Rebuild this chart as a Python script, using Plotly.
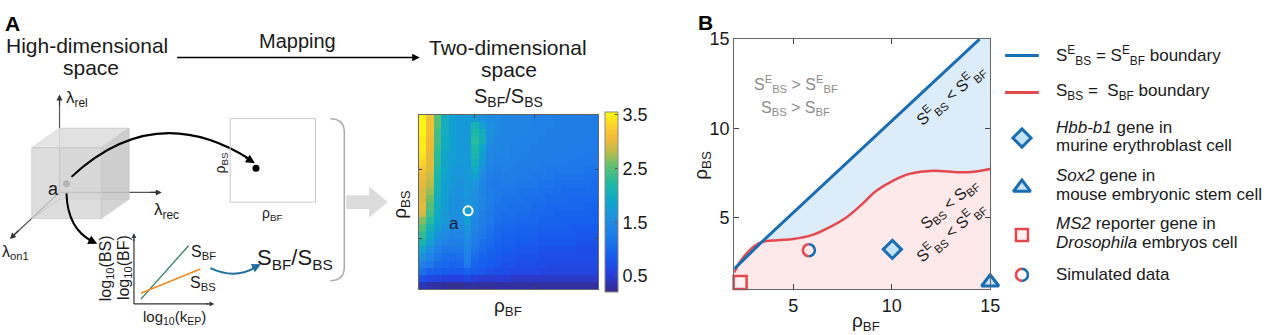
import plotly.graph_objects as go

FONT = "Liberation Sans, Arial, sans-serif"
INK = "#1a1a1a"

# ---------------- Panel A: S_BF / S_BS heatmap (rows from top = high rho_BS) -------------
ratio_rows_top_down = [
    [3.5,3.1,2.5,2.0,1.8,1.7,1.7,1.7,1.6,1.5,1.5,1.45,1.4,1.4,1.4,1.35,1.35,1.35,1.3,1.3,1.3,1.3,1.3,1.3],
    [3.5,3.1,2.5,2.0,1.8,1.7,1.7,2.1,1.8,1.6,1.5,1.45,1.4,1.4,1.4,1.35,1.35,1.35,1.3,1.3,1.3,1.3,1.3,1.3],
    [3.5,3.1,2.4,2.0,1.8,1.7,1.7,2.2,2.0,1.6,1.5,1.45,1.4,1.4,1.35,1.35,1.35,1.3,1.3,1.3,1.3,1.3,1.3,1.3],
    [3.45,3.05,2.4,1.95,1.8,1.7,1.7,2.25,2.05,1.55,1.45,1.4,1.4,1.35,1.35,1.35,1.3,1.3,1.3,1.3,1.3,1.3,1.25,1.25],
    [3.45,3.05,2.35,1.95,1.8,1.7,1.7,2.2,1.9,1.5,1.45,1.4,1.35,1.35,1.35,1.3,1.3,1.3,1.3,1.3,1.25,1.25,1.25,1.25],
    [3.4,3.0,2.3,1.9,1.75,1.7,1.7,2.15,1.8,1.45,1.4,1.4,1.35,1.35,1.3,1.3,1.3,1.3,1.25,1.25,1.25,1.25,1.25,1.2],
    [3.3,3.0,2.3,1.9,1.75,1.7,1.7,2.05,1.7,1.4,1.35,1.35,1.35,1.3,1.3,1.3,1.25,1.25,1.25,1.25,1.2,1.2,1.2,1.2],
    [3.15,2.95,2.2,1.9,1.7,1.65,1.7,1.95,1.6,1.35,1.3,1.35,1.3,1.3,1.25,1.25,1.25,1.2,1.2,1.2,1.2,1.2,1.15,1.15],
    [3.05,2.85,2.15,1.85,1.7,1.65,1.7,1.8,1.5,1.3,1.25,1.3,1.3,1.25,1.25,1.2,1.2,1.2,1.15,1.15,1.15,1.15,1.1,1.1],
    [3.0,2.8,2.1,1.8,1.7,1.6,1.7,1.65,1.45,1.25,1.2,1.25,1.25,1.2,1.2,1.2,1.15,1.15,1.1,1.1,1.1,1.1,1.1,1.05],
    [2.95,2.7,2.05,1.8,1.65,1.6,1.7,1.6,1.4,1.3,1.2,1.2,1.2,1.15,1.15,1.15,1.1,1.1,1.1,1.05,1.05,1.05,1.05,1.05],
    [2.95,2.6,2.0,1.8,1.6,1.6,1.65,1.55,1.45,1.3,1.2,1.15,1.15,1.15,1.1,1.1,1.1,1.05,1.05,1.05,1.0,1.0,1.0,1.0],
    [3.0,2.5,2.0,1.75,1.6,1.6,1.7,1.6,1.4,1.25,1.15,1.15,1.1,1.1,1.1,1.05,1.05,1.0,1.0,1.0,1.0,1.0,0.95,0.95],
    [2.9,2.4,1.95,1.7,1.6,1.6,1.8,1.5,1.35,1.2,1.15,1.1,1.1,1.05,1.05,1.0,1.0,1.0,0.95,0.95,0.95,0.95,0.95,0.9],
    [2.65,2.25,1.9,1.7,1.55,1.55,1.8,1.45,1.3,1.2,1.1,1.05,1.05,1.0,1.0,1.0,0.95,0.95,0.95,0.9,0.9,0.9,0.9,0.9],
    [2.5,2.1,1.8,1.6,1.5,1.5,1.7,1.4,1.25,1.15,1.05,1.0,1.0,0.95,0.95,0.95,0.9,0.9,0.9,0.9,0.85,0.85,0.85,0.85],
    [2.3,1.95,1.65,1.5,1.4,1.4,1.6,1.3,1.2,1.1,1.0,0.95,0.95,0.9,0.9,0.9,0.85,0.85,0.85,0.85,0.85,0.8,0.8,0.8],
    [2.1,1.8,1.5,1.35,1.3,1.3,1.5,1.25,1.1,1.05,0.95,0.9,0.9,0.85,0.85,0.85,0.8,0.8,0.8,0.8,0.8,0.75,0.75,0.75],
    [1.85,1.6,1.35,1.2,1.2,1.2,1.45,1.15,1.05,0.95,0.9,0.85,0.85,0.8,0.8,0.8,0.75,0.75,0.75,0.75,0.75,0.7,0.7,0.7],
    [1.6,1.4,1.2,1.1,1.05,1.1,1.35,1.05,0.95,0.9,0.85,0.8,0.8,0.75,0.75,0.75,0.7,0.7,0.7,0.7,0.7,0.7,0.7,0.7],
    [1.35,1.2,1.05,1.0,0.95,1.0,1.25,0.95,0.9,0.85,0.8,0.75,0.75,0.7,0.7,0.7,0.7,0.65,0.65,0.65,0.65,0.65,0.65,0.65],
    [1.1,0.95,0.9,0.85,0.85,0.85,0.95,0.85,0.8,0.75,0.7,0.7,0.65,0.65,0.65,0.65,0.6,0.6,0.6,0.6,0.6,0.6,0.6,0.6],
    [0.75,0.65,0.6,0.55,0.55,0.55,0.65,0.55,0.5,0.5,0.5,0.5,0.45,0.45,0.45,0.45,0.45,0.45,0.45,0.45,0.45,0.45,0.45,0.45],
    [0.4,0.35,0.3,0.28,0.25,0.25,0.3,0.3,0.28,0.28,0.3,0.3,0.3,0.3,0.3,0.3,0.3,0.3,0.3,0.3,0.3,0.3,0.3,0.3],
]
heat_z = ratio_rows_top_down[::-1]
cbar_ticks = [0.5, 1.5, 2.5, 3.5]
cbar_range = [0.2, 3.55]
point_a_x = [6.1]
point_a_y = [10.3]

# ---------------- Panel B data -------------
blue_x = [2.0, 3.4, 14.46]
blue_y = [2.15, 3.65, 15.0]
red_x = [2.0, 2.3, 2.7, 3.0, 3.4, 4.2, 5.0, 5.9, 6.7, 7.6, 8.4, 9.2, 10.1, 10.9, 12.1, 13.4, 14.3, 15.0]
red_y = [1.95, 2.55, 3.1, 3.4, 3.65, 3.75, 3.82, 4.02, 4.4, 4.95, 5.67, 6.5, 7.1, 7.46, 7.64, 7.55, 7.6, 7.73]
b_xrange = [2, 15]
b_yrange = [1, 15]
b_ticks = [5, 10, 15]
hbb_x, hbb_y = [10.03], [3.24]
sox2_x, sox2_y = [15.0], [1.4]
ms2_x, ms2_y = [2.3], [1.39]
sim_x, sim_y = [5.79], [3.19]

BLUE = "#1b6db3"
RED = "#e5474e"
LBLUE = "#dcedf9"
PINK = "#fde9e9"
MFILL = "#c6e2f6"

parula = [[0.0, "rgb(53,42,135)"], [0.1, "rgb(38,62,220)"], [0.2, "rgb(22,92,238)"],
          [0.3, "rgb(30,120,232)"], [0.4, "rgb(32,140,225)"], [0.5, "rgb(14,165,205)"],
          [0.6, "rgb(30,185,165)"], [0.7, "rgb(95,192,112)"], [0.78, "rgb(190,188,75)"],
          [0.85, "rgb(240,186,55)"], [0.92, "rgb(252,208,45)"], [1.0, "rgb(249,251,14)"]]

W, H = 1280, 335
def dx(a, b):
    return [a / W, b / W]
def dy(top, bot):
    return [1 - bot / H, 1 - top / H]

fig = go.Figure()

# heatmap
fig.add_trace(go.Heatmap(
    z=heat_z, colorscale=parula, zmin=cbar_range[0], zmax=cbar_range[1],
    xaxis="x", yaxis="y",
    colorbar=dict(x=610 / W, xanchor="left", y=1 - 198 / H, yanchor="middle",
                  lenmode="pixels", len=180, thickness=13, xpad=0, ypad=0,
                  tickvals=cbar_ticks, ticktext=[str(v) for v in cbar_ticks],
                  ticks="inside", ticklen=3, tickcolor="#555",
                  outlinewidth=1, outlinecolor="#888",
                  tickfont=dict(size=18, family=FONT, color=INK)),
))
fig.add_trace(go.Scatter(x=point_a_x, y=point_a_y, mode="markers", xaxis="x", yaxis="y",
                         marker=dict(symbol="circle-open", size=9, color="white", line=dict(width=2)),
                         showlegend=False, hoverinfo="skip"))

# panel B fills
pink_x = red_x + [red_x[-1], red_x[0]]
pink_y = red_y + [0, 0]
fig.add_trace(go.Scatter(x=pink_x, y=pink_y, fill="toself", fillcolor=PINK, mode="none",
                         xaxis="x2", yaxis="y2", showlegend=False, hoverinfo="skip"))
k0 = red_x.index(blue_x[1])
lb_x = blue_x[1:] + [b_xrange[1]] + red_x[k0:][::-1]
lb_y = blue_y[1:] + [b_yrange[1]] + red_y[k0:][::-1]
fig.add_trace(go.Scatter(x=lb_x, y=lb_y, fill="toself", fillcolor=LBLUE, mode="none",
                         xaxis="x2", yaxis="y2", showlegend=False, hoverinfo="skip"))
fig.add_trace(go.Scatter(x=red_x, y=red_y, mode="lines", line=dict(color=RED, width=2.5, shape="spline", smoothing=1.0),
                         xaxis="x2", yaxis="y2", showlegend=False, hoverinfo="skip"))
fig.add_trace(go.Scatter(x=blue_x, y=blue_y, mode="lines", line=dict(color=BLUE, width=3),
                         xaxis="x2", yaxis="y2", showlegend=False, hoverinfo="skip"))
fig.add_trace(go.Scatter(x=hbb_x, y=hbb_y, mode="markers", xaxis="x2", yaxis="y2", cliponaxis=False,
                         marker=dict(symbol="diamond", size=14, color=MFILL, line=dict(color=BLUE, width=3)),
                         showlegend=False, hoverinfo="skip"))
fig.add_trace(go.Scatter(x=sox2_x, y=sox2_y, mode="markers", xaxis="x2", yaxis="y2", cliponaxis=False,
                         marker=dict(symbol="triangle-up", size=15, color=MFILL, line=dict(color=BLUE, width=3)),
                         showlegend=False, hoverinfo="skip"))
fig.add_trace(go.Scatter(x=ms2_x, y=ms2_y, mode="markers", xaxis="x2", yaxis="y2", cliponaxis=False,
                         marker=dict(symbol="square", size=13, color="#fdf2f2", line=dict(color=RED, width=2.5)),
                         showlegend=False, hoverinfo="skip"))

# pixel overlay axis (x3/y3) for the schematic and legend
legend_marks = dict(
    diamond=(1030, 132), triangle=(1030, 183), square=(1030, 232), circle=(1030, 273))
fig.add_trace(go.Scatter(x=[legend_marks["diamond"][0]], y=[legend_marks["diamond"][1]], mode="markers",
                         xaxis="x3", yaxis="y3", cliponaxis=False,
                         marker=dict(symbol="diamond", size=14, color=MFILL, line=dict(color=BLUE, width=3)),
                         showlegend=False, hoverinfo="skip"))
fig.add_trace(go.Scatter(x=[legend_marks["triangle"][0]], y=[legend_marks["triangle"][1]], mode="markers",
                         xaxis="x3", yaxis="y3", cliponaxis=False,
                         marker=dict(symbol="triangle-up", size=15, color=MFILL, line=dict(color=BLUE, width=3)),
                         showlegend=False, hoverinfo="skip"))
fig.add_trace(go.Scatter(x=[legend_marks["square"][0]], y=[legend_marks["square"][1]], mode="markers",
                         xaxis="x3", yaxis="y3", cliponaxis=False,
                         marker=dict(symbol="square", size=12, color="#fdf2f2", line=dict(color=RED, width=2.5)),
                         showlegend=False, hoverinfo="skip"))
# dots in the schematic
fig.add_trace(go.Scatter(x=[67, 258], y=[179, 163], mode="markers", xaxis="x3", yaxis="y3", cliponaxis=False,
                         marker=dict(size=7, color="black"), showlegend=False, hoverinfo="skip"))

shapes = []
def P(path, color="black", width=1.5, fill=None, **kw):
    d = dict(type="path", path=path, xref="x3", yref="y3", line=dict(color=color, width=width))
    if fill:
        d["fillcolor"] = fill
    d.update(kw)
    shapes.append(d)
def L(x0, y0, x1, y1, color="black", width=1.2):
    shapes.append(dict(type="line", x0=x0, y0=y0, x1=x1, y1=y1, xref="x3", yref="y3",
                       line=dict(color=color, width=width)))

# cube axes (drawn first, under translucent cube)
L(60, 188, 60, 90, "#555", 1.2)
L(60, 188, 158, 188, "#555", 1.2)
L(60, 188, 13, 233, "#555", 1.2)
# cube faces
P("M 60,122 L 130,122 L 130,195 L 60,195 Z", "rgba(200,200,200,0.7)", 1, "rgba(205,205,205,0.45)")
P("M 32,142 L 60,122 L 130,122 L 102,142 Z", "rgba(205,205,205,0.7)", 1, "rgba(222,222,222,0.8)")
P("M 102,142 L 130,122 L 130,195 L 102,215 Z", "rgba(200,200,200,0.7)", 1, "rgba(198,198,198,0.75)")
P("M 32,142 L 102,142 L 102,215 L 32,215 Z", "rgba(200,200,200,0.7)", 1, "rgba(210,210,210,0.75)")
L(32, 215, 60, 195, "rgba(190,190,190,0.7)", 1)
# curved arrows
P("M 72,172 Q 156,92 252,154", "black", 2)
P("M 67,189 Q 68,226 94,239", "black", 2)
P("M 212,266 Q 237,278 258,265", "#1f6e9e", 2)
# small mapping box
shapes.append(dict(type="rect", x0=232, y0=112, x1=318, y1=198, xref="x3", yref="y3",
                   line=dict(color="#c8c8c8", width=1)))
# bracket
P("M 333,112 Q 347,112 347,126 L 347,265 Q 347,279 333,279", "#aaaaaa", 1.5)
# big gray arrow
P("M 349,191 L 372,191 L 372,182 L 391,198 L 372,214 L 372,205 L 349,205 Z", "#dcdcdc", 0, "#dcdcdc")
# inset plot
L(135, 303, 135, 236, "#333", 1.2)
L(135, 303, 210, 303, "#333", 1.2)
L(142, 298, 190, 243, "#2f7f62", 1.3)
L(142, 292, 202, 267, "#ee8a22", 1.6)

# half-coloured circle markers (pixel-size paths anchored at data points)
def half_circles(xa, ya, xref, yref, r=6.0, w=2.6):
    k = 0.5523 * r
    left = f"M 0,{r} C {-k},{r} {-r},{k} {-r},0 C {-r},{-k} {-k},{-r} 0,{-r}"
    right = f"M 0,{r} C {k},{r} {r},{k} {r},0 C {r},{-k} {k},{-r} 0,{-r}"
    for pth, col in ((left, RED), (right, BLUE)):
        shapes.append(dict(type="path", path=pth, xref=xref, yref=yref, xsizemode="pixel", ysizemode="pixel",
                           xanchor=xa, yanchor=ya, line=dict(color=col, width=w), layer="above"))
half_circles(sim_x[0], sim_y[0], "x2", "y2")
half_circles(legend_marks["circle"][0], legend_marks["circle"][1], "x3", "y3")

# legend lines
L(1013, 47, 1047, 47, BLUE, 3)
L(1013, 85, 1047, 85, RED, 3)

fig.update_layout(shapes=shapes)

ann = []
def T(x, y, text, size=15, color=INK, anchor="center", angle=0, **kw):
    d = dict(x=x, y=y, xref="x3", yref="y3", text=text, showarrow=False, xanchor=anchor, yanchor="middle",
             textangle=angle, font=dict(size=size, family=FONT, color=color))
    d.update(kw)
    ann.append(d)
def ARW(x, y, ax, ay, color="black", width=1.2, size=1.0):
    ann.append(dict(x=x, y=y, ax=ax, ay=ay, xref="x3", yref="y3", axref="x3", ayref="y3", text="",
                    showarrow=True, arrowhead=2, arrowsize=size, arrowwidth=width, arrowcolor=color))

T(13, 14, "<b>A</b>", 21, "black")
T(711, 13, "<b>B</b>", 21, "black")
T(88, 37, "High-dimensional", 21)
T(92, 59, "space", 21)
T(300, 32, "Mapping", 20)
ARW(423, 49, 177, 49, "black", 1.5)
T(512, 39, "Two-dimensional", 21)
T(513, 61, "space", 21)
T(512, 90, "S<sub>BF</sub>/S<sub>BS</sub>", 20)
# cube labels
ARW(60, 87, 60, 100, "#333", 1.2)
ARW(163, 188, 150, 188, "#333", 1.2)
ARW(10, 236, 20, 226, "#333", 1.2)
T(64, 92, "λ<sub>rel</sub>", 17, anchor="left")
T(168, 207, "λ<sub>rec</sub>", 17)
T(0, 250, "λ<sub>on1</sub>", 16, anchor="left")
T(54, 184, "a", 18)
ARW(257, 158, 246, 151, "black", 2, 0.9)
ARW(98, 241, 88, 236, "black", 2, 0.9)
ARW(263, 262, 253, 267, "#1f6e9e", 2, 0.9)
ARW(135, 230, 135, 240, "#333", 1.2, 0.8)
ARW(216, 303, 206, 303, "#333", 1.2, 0.8)
T(223, 157, "ρ<sub>BS</sub>", 14, angle=-90)
T(275, 210, "ρ<sub>BF</sub>", 14)
T(205, 250, "S<sub>BF</sub>", 16)
T(205, 282, "S<sub>BS</sub>", 16)
T(107, 266, "log<sub>10</sub>(BS)", 16, angle=-90)
T(125, 266, "log<sub>10</sub>(BF)", 16, angle=-90)
T(176, 317, "log<sub>10</sub>(k<sub>EP</sub>)", 15)
T(297, 257, "S<sub>BF</sub>/S<sub>BS</sub>", 22)
T(404, 200, "ρ<sub>BS</sub>", 19, angle=-90)
T(512, 306, "ρ<sub>BF</sub>", 19)
T(458, 220, "a", 17, "#111833")
# panel B labels
T(873, 322, "ρ<sub>BF</sub>", 19)
T(708, 160, "ρ<sub>BS</sub>", 19, angle=-90)
T(802, 76, "S<sup>E</sup><sub>BS</sub> > S<sup>E</sup><sub>BF</sub>", 16, "#8c8c8c")
T(802, 102, "S<sub>BS</sub> > S<sub>BF</sub>", 16, "#8c8c8c")
T(958, 88, "S<sup>E</sup><sub>BS</sub> < S<sup>E</sup><sub>BF</sub>", 16, angle=-40)
T(957, 200, "S<sub>BS</sub> < S<sub>BF</sub>", 16, angle=-40)
T(958, 229, "S<sup>E</sup><sub>BS</sub> < S<sup>E</sup><sub>BF</sub>", 16, angle=-40)
# legend texts
LF = 17
T(1062, 47, "S<sup>E</sup><sub>BS</sub> = S<sup>E</sup><sub>BF</sub> boundary", LF, anchor="left")
T(1062, 85, "S<sub>BS</sub> =  S<sub>BF</sub> boundary", LF, anchor="left")
T(1062, 121, "<i>Hbb-b1</i> gene in", LF, anchor="left")
T(1062, 140, "murine erythroblast cell", LF, anchor="left")
T(1062, 171, "<i>Sox2</i> gene in", LF, anchor="left")
T(1062, 190, "mouse embryonic stem cell", LF, anchor="left")
T(1062, 220, "<i>MS2</i> reporter gene in", LF, anchor="left")
T(1062, 240, "<i>Drosophila</i> embryos cell", LF, anchor="left")
T(1062, 273, "Simulated data", LF, anchor="left")

frame = dict(showline=True, linecolor="#666", linewidth=1, mirror="ticks", ticks="inside",
             zeroline=False, showgrid=False)
fig.update_layout(
    width=W, height=H, margin=dict(l=0, r=0, t=0, b=0),
    paper_bgcolor="white", plot_bgcolor="rgba(0,0,0,0)", showlegend=False,
    font=dict(family=FONT, color=INK),
    annotations=ann,
    xaxis=dict(domain=dx(422, 603), range=[-0.5, 23.5], tickvals=[7, 15], ticklen=3,
               showticklabels=False, **frame),
    yaxis=dict(domain=dy(108, 288), range=[-0.5, 23.5], tickvals=[6.5, 16], ticklen=3,
               showticklabels=False, **frame),
    xaxis2=dict(domain=dx(740, 998), range=b_xrange, tickvals=b_ticks, ticklen=5, anchor="y2",
                tickfont=dict(size=18, family=FONT, color=INK), **frame),
    yaxis2=dict(domain=dy(30, 288), range=b_yrange, tickvals=b_ticks, ticklen=5, anchor="x2",
                tickfont=dict(size=18, family=FONT, color=INK), **frame),
    xaxis3=dict(domain=[0, 1], range=[0, W], visible=False, anchor="y3", fixedrange=True),
    yaxis3=dict(domain=[0, 1], range=[H, 0], visible=False, anchor="x3", fixedrange=True),
)

post = ("var gd=document.getElementById('{plot_id}');"
        "document.documentElement.style.margin='0';document.body.style.margin='0';"
        "document.body.style.padding='0';document.body.style.overflow='hidden';"
        "gd.style.position='absolute';gd.style.left='0px';gd.style.top='0px';")
fig.write_html("out.html", post_script=post, config={"displayModeBar": False})
